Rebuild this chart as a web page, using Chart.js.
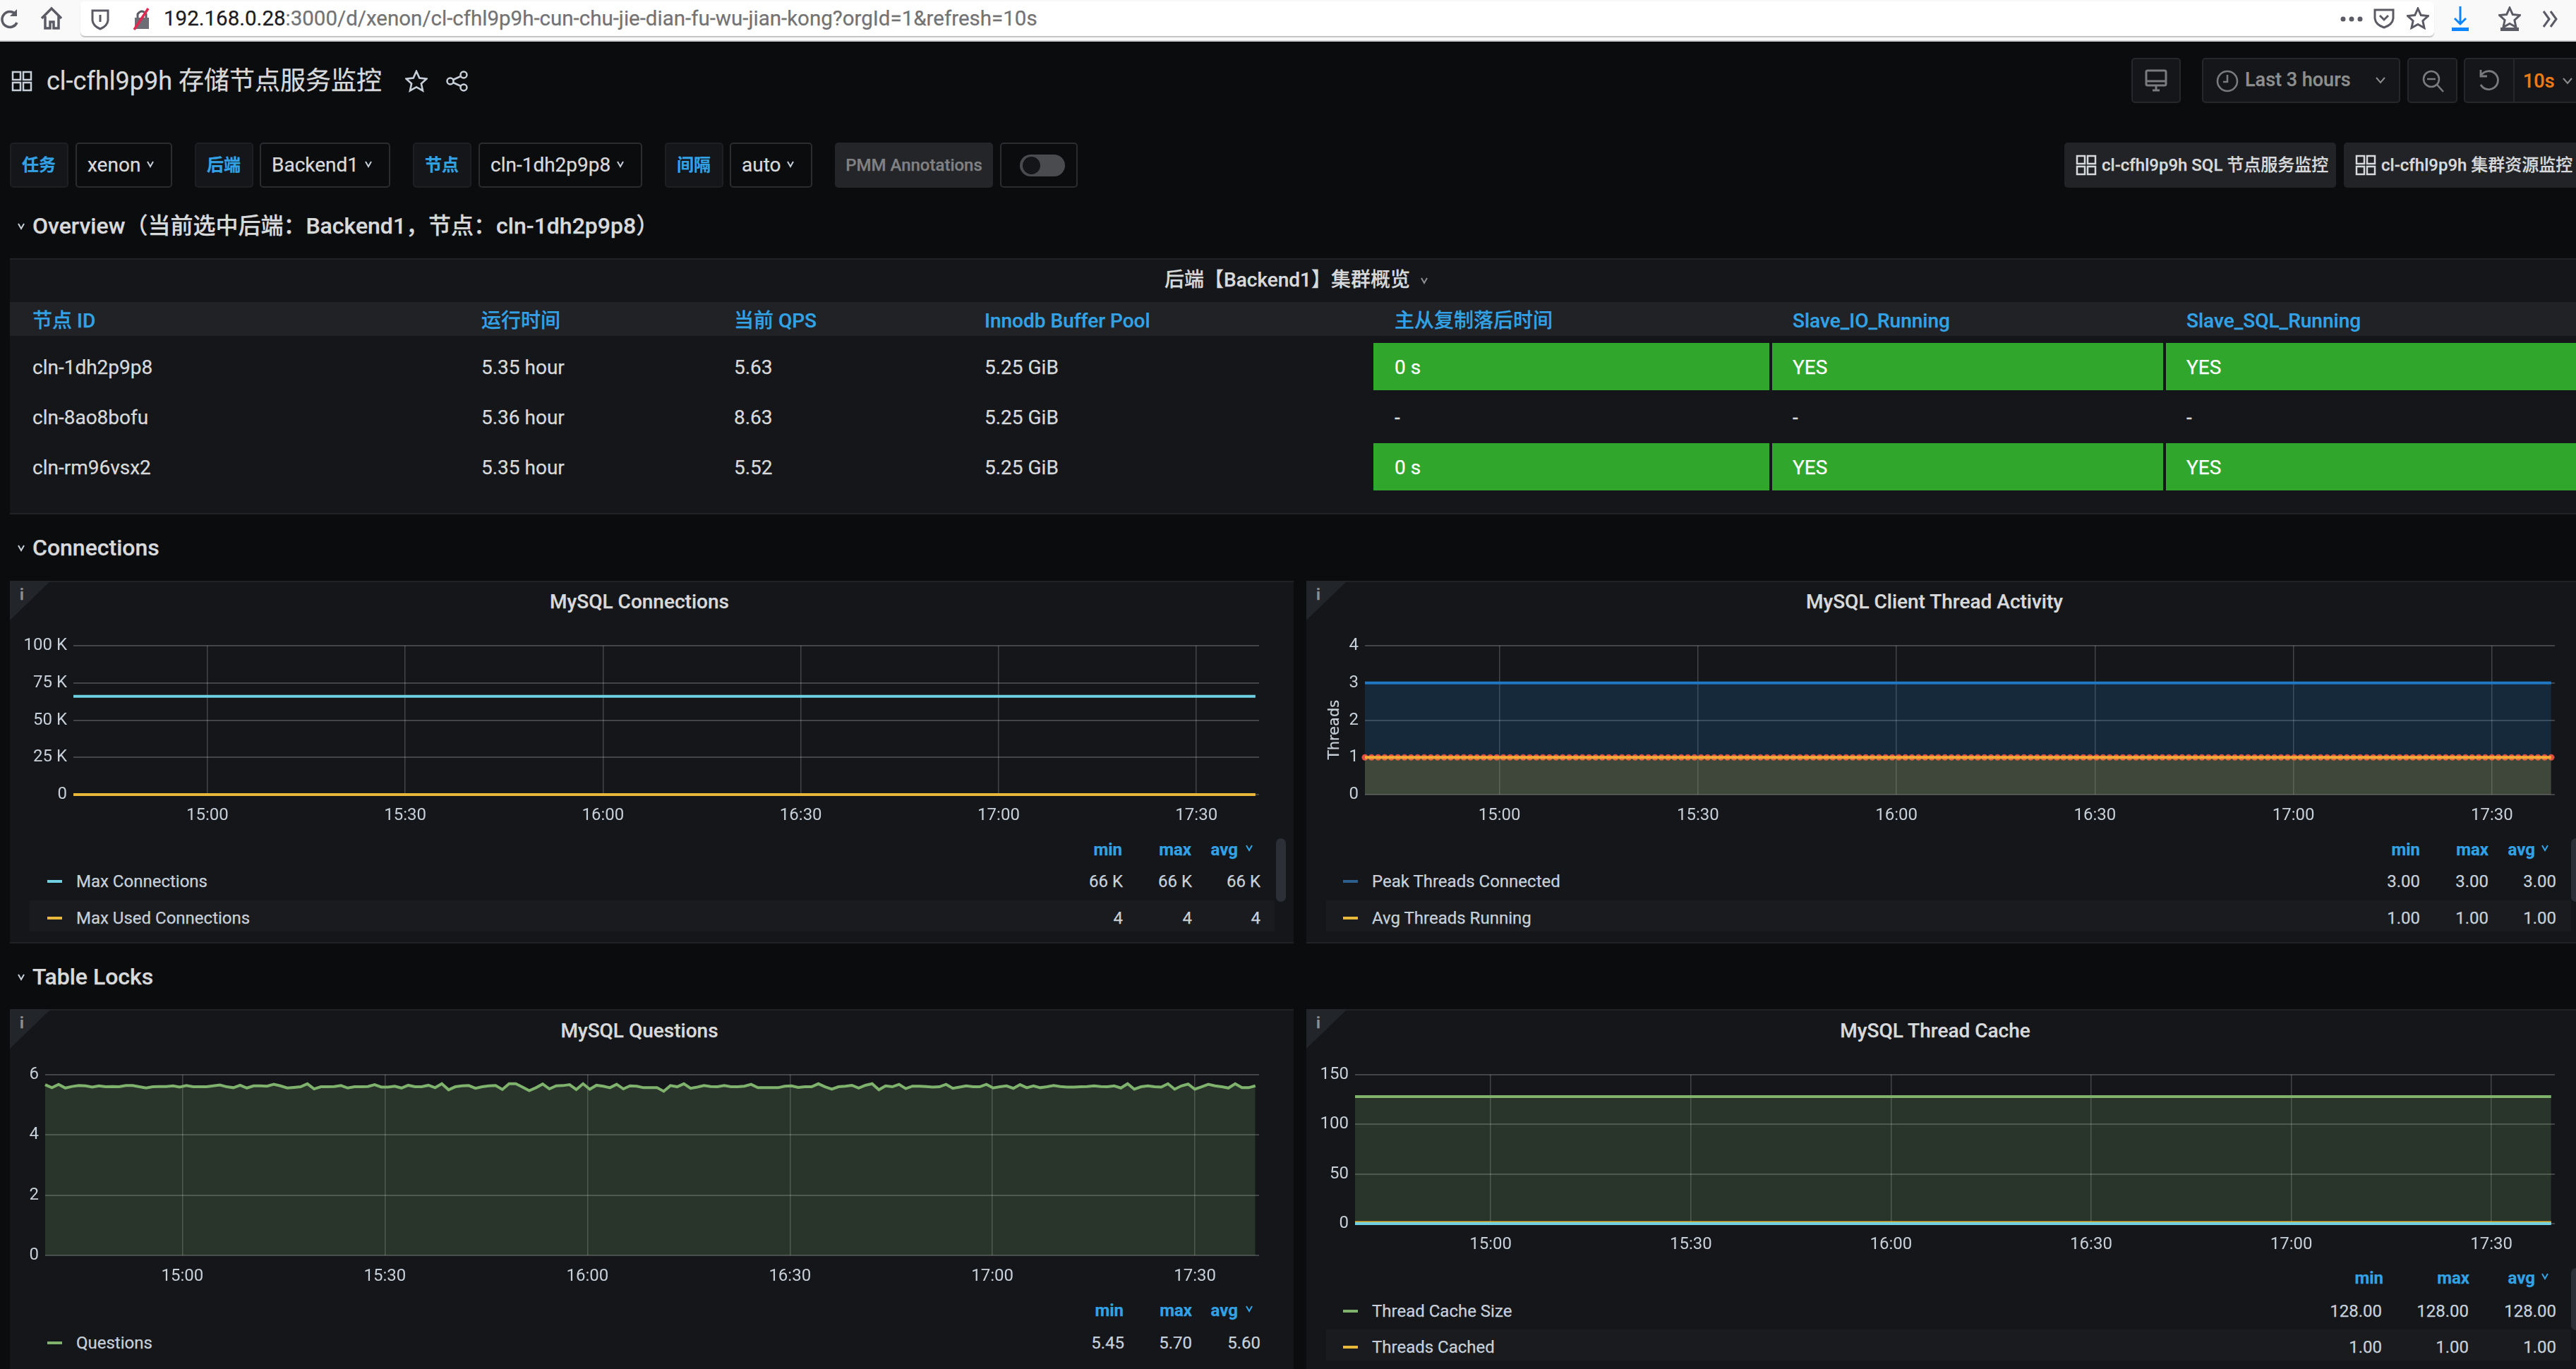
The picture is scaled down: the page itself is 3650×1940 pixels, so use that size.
<!DOCTYPE html>
<html>
<head>
<meta charset="utf-8">
<title>cl-cfhl9p9h 存储节点服务监控</title>
<script src="https://cdn.jsdelivr.net/npm/chart.js@4"></script>
<style>
  html, body { margin: 0; padding: 0; background: #0b0c0e; }
  #page { position: relative; width: 3650px; height: 1940px; overflow: hidden; background: #0b0c0e;
    font-family: Roboto, "Noto Sans CJK SC", sans-serif; color: #d8d9da; }
  #page div, #page svg, #page canvas { position: absolute; }
  .t { white-space: nowrap; line-height: 1; -webkit-text-stroke: 0.25px currentColor; }
</style>
</head>
<body>
<div id="page"></div>
<script>
'use strict';
const page = document.getElementById('page');
const BLUE = '#33a2e5', PANEL = '#141619', GREEN = '#31a62d', TEXT = '#c7d0d9';

// ---- small dom helpers ----
function box(x, y, w, h, css) {
  const d = document.createElement('div');
  d.style.cssText = `left:${x}px;top:${y}px;width:${w}px;height:${h}px;${css || ''}`;
  page.appendChild(d);
  return d;
}
// x is the left edge, or centre / right edge with align 'c' / 'r'; y is the vertical centre
function txt(s, x, y, size, color, o) {
  o = o || {};
  const d = document.createElement('div');
  const tx = o.align === 'c' ? '-50%' : o.align === 'r' ? '-100%' : '0';
  d.className = 't';
  d.style.cssText = `left:${x}px;top:${y}px;font-size:${size}px;color:${color};font-weight:${o.weight || 400};transform:translate(${tx},-50%)${o.rotate ? ' rotate(' + o.rotate + 'deg)' : ''};`;
  d.textContent = s;
  page.appendChild(d);
  return d;
}
function icon(x, y, w, h, inner) {
  const d = document.createElementNS('http://www.w3.org/2000/svg', 'svg');
  d.setAttribute('viewBox', `0 0 ${w} ${h}`);
  d.setAttribute('width', w); d.setAttribute('height', h);
  d.style.left = x + 'px'; d.style.top = y + 'px';
  d.innerHTML = inner;
  page.appendChild(d);
}
function chev(x, y, color, small) {
  const w = small ? 5 : 7;
  icon(x - w, y - 5, w * 2, 10, `<polyline points="1,1 ${w},8 ${w * 2 - 1},1" fill="none" stroke="${color}" stroke-width="2"/>`);
}
function grid(x, y, color) {
  const r = (a, b) => `<rect x="${a}" y="${b}" width="11" height="11" fill="none" stroke="${color}" stroke-width="2.5"/>`;
  icon(x, y, 30, 30, r(2, 2) + r(17, 2) + r(2, 17) + r(17, 17));
}

// ---- browser bar ----
box(0, 0, 3650, 59, 'background:#f9f9fa;border-bottom:2px solid #d0d0d2;box-sizing:border-box;');
box(114, 2, 3335, 49, 'background:#fff;border-radius:6px;box-shadow:0 2px 1px #c4c4c6;');
const G = '#5b5b66';
icon(0, 10, 28, 34, `<path d="M22 10 A11 11 0 1 0 24 22" fill="none" stroke="${G}" stroke-width="3.5"/><path d="M24 3v10h-10z" fill="${G}"/>`);
icon(56, 8, 34, 36, `<path d="M3 18 L17 4 L31 18 M8 15V32H15V23H20V32H27V15" fill="none" stroke="${G}" stroke-width="3.5"/>`);
icon(128, 11, 28, 32, `<path d="M3 4H25V18Q24 26 14 30Q4 26 3 18Z" fill="none" stroke="${G}" stroke-width="3"/><path d="M14 10v10" stroke="${G}" stroke-width="3"/>`);
icon(186, 11, 30, 32, `<rect x="5" y="14" width="20" height="16" fill="#6d6d75"/><path d="M9 14V9Q15 1 21 9V14" fill="none" stroke="${G}" stroke-width="3"/><path d="M4 31L24 1" stroke="#e22850" stroke-width="3.5"/>`);
const url = txt('192.168.0.28', 232, 27, 29.5, '#1c1c22');
url.innerHTML = '192.168.0.28<span style="color:#737373">:3000/d/xenon/cl-cfhl9p9h-cun-chu-jie-dian-fu-wu-jian-kong?orgId=1&amp;refresh=10s</span>';
icon(3315, 20, 34, 14, `<circle cx="5" cy="7" r="3.5" fill="${G}"/><circle cx="17" cy="7" r="3.5" fill="${G}"/><circle cx="29" cy="7" r="3.5" fill="${G}"/>`);
icon(3362, 11, 32, 30, `<path d="M3 3H29V15Q28 24 16 28Q4 24 3 15Z" fill="none" stroke="${G}" stroke-width="3"/><path d="M10 11l6 6l6-6" fill="none" stroke="${G}" stroke-width="3"/>`);
const star = (c, w) => `<path d="M16 2l4.300 9.500 10.200 1.100-7.600 6.900 2.100 10-9-5.100-9 5.100 2.100-10-7.600-6.900 10.200-1.100z" fill="none" stroke="${c}" stroke-width="${w}"/>`;
icon(3410, 10, 32, 32, star(G, 3));
icon(3472, 8, 28, 36, '<path d="M14 1V26M6 18l8 8l8-8" fill="none" stroke="#0a84ff" stroke-width="3"/><rect x="2" y="31" width="24" height="5" fill="#0a84ff"/>');
icon(3540, 9, 32, 36, star(G, 3) + `<rect x="3" y="30" width="26" height="5" fill="${G}"/>`);
icon(3600, 13, 28, 28, `<path d="M4 3l8 11l-8 11M14 3l8 11l-8 11" fill="none" stroke="${G}" stroke-width="3"/>`);

// ---- dashboard header ----
grid(16, 100, '#c7d0d9');
txt('cl-cfhl9p9h 存储节点服务监控', 66, 115, 36, '#d8d9da');
icon(574, 99, 32, 32, star('#c7d0d9', 2.6));
icon(632, 100, 32, 30, '<g fill="none" stroke="#c7d0d9" stroke-width="2.5"><circle cx="6" cy="15" r="4.500"/><circle cx="25" cy="6" r="4.500"/><circle cx="25" cy="24" r="4.500"/><path d="M10 13l11-5M10 17l11 5"/></g>');

const BTN = 'background:#141619;border:2px solid #25272b;border-radius:5px;box-sizing:border-box;';
box(3020, 82, 70, 64, BTN);
icon(3039, 98, 32, 34, '<g fill="none" stroke="#7b7b7e" stroke-width="3"><rect x="2" y="2" width="28" height="21" rx="2"/><path d="M2 17H30M11 30H21M16 24V30"/></g>');
box(3120, 82, 281, 64, BTN);
icon(3139, 98, 34, 34, '<g fill="none" stroke="#7b7b7e" stroke-width="2.6"><circle cx="17" cy="17" r="14"/><path d="M17 8V18H11"/></g>');
txt('Last 3 hours', 3181, 113, 27, '#8e8e8e', { weight: 500 });
chev(3373, 114, '#8e8e8e');
box(3411, 82, 71, 64, BTN);
icon(3430, 98, 34, 34, '<g fill="none" stroke="#7b7b7e" stroke-width="2.6"><circle cx="15" cy="14" r="11"/><path d="M9 14H21M23 22L32 32"/></g>');
box(3491, 82, 170, 64, BTN);
box(3561, 82, 2, 64, 'background:#25272b;');
icon(3510, 97, 34, 36, '<g fill="none" stroke="#7b7b7e" stroke-width="2.800"><path d="M6 9A13 13 0 1 1 5 23"/><path d="M5 2V11H14"/></g>');
txt('10s', 3575, 115, 27, '#eb7b18', { weight: 500 });
chev(3638, 115, '#8e8e8e');

// ---- template variables ----
const VARS = [
  { label: '任务', value: 'xenon', lx: 14, vx: 107, vw: 137 },
  { label: '后端', value: 'Backend1', lx: 276, vx: 368, vw: 185 },
  { label: '节点', value: 'cln-1dh2p9p8', lx: 585, vx: 678, vw: 232 },
  { label: '间隔', value: 'auto', lx: 942, vx: 1034, vw: 117 }
];
VARS.forEach((v) => {
  box(v.lx, 202, 83, 64, 'background:#141619;border:2px solid #1d1f23;border-radius:5px;box-sizing:border-box;');
  txt(v.label, v.lx + 41, 234, 24, BLUE, { align: 'c', weight: 700 });
  box(v.vx, 202, v.vw, 64, 'background:#0b0c0e;border:2px solid #2a2c30;border-radius:5px;box-sizing:border-box;');
  txt(v.value, v.vx + 17, 234, 28, '#d8d9da');
  chev(v.vx + v.vw - 31, 233, '#c7d0d9', true);
});
box(1183, 202, 224, 64, 'background:#232528;border-radius:5px;');
txt('PMM Annotations', 1295, 234, 24, '#808184', { align: 'c', weight: 500 });
box(1417, 202, 110, 64, 'background:#0b0c0e;border:2px solid #2a2c30;border-radius:5px;box-sizing:border-box;');
box(1445, 219, 64, 31, 'background:#4a4b4f;border-radius:16px;');
box(1449, 222, 25, 25, 'background:#141518;border-radius:50%;');

// dashboard links
const LINKS = [
  { text: 'cl-cfhl9p9h SQL 节点服务监控', x: 2925, w: 385 },
  { text: 'cl-cfhl9p9h 集群资源监控', x: 3321, w: 340 }
];
LINKS.forEach((l) => {
  box(l.x, 202, l.w, 64, 'background:#212327;border-radius:5px;');
  grid(l.x + 16, 219, '#d8d9da');
  txt(l.text, l.x + 53, 234, 24, '#d8d9da', { weight: 500 });
});

// ---- section rows ----
[['Overview（当前选中后端：Backend1，节点：cln-1dh2p9p8）', 320], ['Connections', 776], ['Table Locks', 1384]].forEach(([s, y]) => {
  chev(30, y + 1, '#c7d0d9', true);
  txt(s, 46, y, 32, '#d8d9da', { weight: 500 });
});

// ---- overview table ----
const TABLE_COLS = [
  { title: '节点 ID', x: 46 }, { title: '运行时间', x: 682 }, { title: '当前 QPS', x: 1040 },
  { title: 'Innodb Buffer Pool', x: 1395 }, { title: '主从复制落后时间', x: 1976, cell: [1946, 2507] },
  { title: 'Slave_IO_Running', x: 2540, cell: [2511, 3065] }, { title: 'Slave_SQL_Running', x: 3098, cell: [3069, 3650] }
];
const TABLE_ROWS = [
  ['cln-1dh2p9p8', '5.35 hour', '5.63', '5.25 GiB', '0 s', 'YES', 'YES'],
  ['cln-8ao8bofu', '5.36 hour', '8.63', '5.25 GiB', '-', '-', '-'],
  ['cln-rm96vsx2', '5.35 hour', '5.52', '5.25 GiB', '0 s', 'YES', 'YES']
];
const ROW_Y = [519, 590, 661];
box(14, 366, 3636, 363, `background:${PANEL};border-top:2px solid #202226;border-bottom:2px solid #202226;box-sizing:border-box;`);
txt('后端【Backend1】集群概览', 1824, 397, 28, '#d8d9da', { align: 'c', weight: 500 });
chev(2018, 398, '#8e8e8e', true);
box(14, 428, 3636, 48, 'background:#202226;');
TABLE_COLS.forEach((c) => txt(c.title, c.x, 455, 28, BLUE, { weight: 500 }));
TABLE_ROWS.forEach((row, r) => {
  row.forEach((val, i) => {
    const c = TABLE_COLS[i];
    const live = c.cell && val !== '-';
    if (live) box(c.cell[0], ROW_Y[r] - 33, c.cell[1] - c.cell[0], 67, `background:${GREEN};`);
    txt(val, c.x, ROW_Y[r] + 2, 28, live ? '#fff' : '#d8d9da');
  });
});

// ---- graph panels ----
const pad = (n) => String(n).padStart(2, '0');
const clock = (m) => pad(Math.floor(m / 60)) + ':' + pad(Math.round(m % 60));
const kilo = (v) => (v ? v / 1000 + ' K' : '0');

// MySQL Questions, one sample a minute over the 3 hours
const QUESTIONS = [
  5.67, 5.57, 5.68, 5.56, 5.61, 5.64, 5.63, 5.59, 5.63, 5.60,
  5.61, 5.60, 5.64, 5.64, 5.60, 5.56, 5.60, 5.61, 5.61, 5.63,
  5.59, 5.64, 5.60, 5.60, 5.60, 5.63, 5.66, 5.60, 5.57, 5.65,
  5.56, 5.63, 5.63, 5.62, 5.68, 5.63, 5.56, 5.58, 5.60, 5.70,
  5.53, 5.60, 5.60, 5.61, 5.64, 5.56, 5.60, 5.60, 5.61, 5.67,
  5.59, 5.59, 5.62, 5.56, 5.65, 5.60, 5.60, 5.65, 5.57, 5.70,
  5.50, 5.60, 5.63, 5.64, 5.55, 5.60, 5.63, 5.64, 5.51, 5.70,
  5.70, 5.59, 5.47, 5.57, 5.69, 5.53, 5.63, 5.64, 5.67, 5.51,
  5.70, 5.52, 5.65, 5.62, 5.57, 5.68, 5.53, 5.63,
  5.62, 5.57, 5.57, 5.57, 5.45, 5.64, 5.60, 5.70, 5.55, 5.59,
  5.64, 5.61, 5.60, 5.64, 5.60, 5.60, 5.62, 5.68, 5.57, 5.57,
  5.57, 5.57, 5.62, 5.63, 5.58, 5.60, 5.60, 5.70, 5.60, 5.52,
  5.60, 5.62, 5.65, 5.56, 5.65, 5.70, 5.50, 5.63, 5.60, 5.68,
  5.54, 5.62, 5.62, 5.61, 5.59, 5.60, 5.68, 5.55, 5.59, 5.63,
  5.60, 5.60, 5.68, 5.56, 5.60, 5.63, 5.55, 5.67, 5.57, 5.63,
  5.57, 5.60, 5.64, 5.61, 5.59, 5.59, 5.60, 5.61, 5.63, 5.61,
  5.60, 5.63, 5.56, 5.70, 5.52, 5.60, 5.63, 5.60, 5.59, 5.70,
  5.52, 5.63, 5.69, 5.52, 5.60, 5.68, 5.63, 5.60, 5.56, 5.70,
  5.57, 5.57, 5.63
];
const X_MIN = 879.67, X_MAX = 1059.5, X_LAST = 1058.95; // minutes since midnight
const times = QUESTIONS.map((_, i) => X_MIN + i * (X_LAST - X_MIN) / (QUESTIONS.length - 1));
const flat = (v) => times.map(() => v);

const PANELS = [
  {
    title: 'MySQL Connections', titleX: 906, titleY: 853, box: [14, 823, 1819, 514],
    plot: { l: 104, r: 1784, t: 915, b: 1126 }, yMax: 100000, yStep: 25000, yFmt: kilo,
    series: [
      { name: 'Max Connections', color: '#6ed0e0', values: flat(66000), stats: ['66 K', '66 K', '66 K'] },
      { name: 'Max Used Connections', color: '#eab839', values: flat(4), stats: ['4', '4', '4'] }
    ],
    legend: { headY: 1204, rowY: [1249, 1301], stripe: [42, 1276, 1764, 44], mark: 67, label: 108, head: [1590, 1688, 1754], chev: 1770, val: [1591, 1689, 1786], bar: [1808, 1188, 90] }
  },
  {
    title: 'MySQL Client Thread Activity', titleX: 2741, titleY: 853, box: [1851, 823, 1799, 514],
    plot: { l: 1934, r: 3620, t: 915, b: 1126 }, yMax: 4, yStep: 1, yFmt: String, yTitle: 'Threads',
    series: [
      { name: 'Peak Threads Connected', color: '#1f78c1', values: flat(3), fill: true, stats: ['3.00', '3.00', '3.00'], mark: '#2c5f8e' },
      { name: 'Avg Threads Running', color: '#f2ad38', values: flat(1), fill: true, fillColor: 'rgba(234,184,57,.2)', stats: ['1.00', '1.00', '1.00'], mark: '#eab839', dots: '#e24d42' }
    ],
    legend: { headY: 1204, rowY: [1249, 1301], stripe: [1879, 1276, 1764, 44], mark: 1903, label: 1944, head: [3429, 3526, 3592], chev: 3606, val: [3429, 3526, 3622], bar: [3643, 1188, 90] }
  },
  {
    title: 'MySQL Questions', titleX: 906, titleY: 1461, box: [14, 1430, 1819, 530],
    plot: { l: 64, r: 1784, t: 1523, b: 1779 }, yMax: 6, yStep: 2, yFmt: String,
    series: [
      { name: 'Questions', color: '#7eb26d', values: QUESTIONS, fill: true, stats: ['5.45', '5.70', '5.60'] }
    ],
    legend: { headY: 1857, rowY: [1903], mark: 67, label: 108, head: [1592, 1689, 1754], chev: 1770, val: [1593, 1689, 1786] }
  },
  {
    title: 'MySQL Thread Cache', titleX: 2742, titleY: 1461, box: [1851, 1430, 1799, 530],
    plot: { l: 1920, r: 3620, t: 1523, b: 1734 }, yMax: 150, yStep: 50, yFmt: String,
    series: [
      { name: 'Thread Cache Size', color: '#7eb26d', values: flat(128), fill: true, stats: ['128.00', '128.00', '128.00'] },
      { name: 'Threads Cached', color: '#eab839', values: flat(1), fill: true, fillColor: 'rgba(234,184,57,.2)', stats: ['1.00', '1.00', '1.00'] },
      // third series is scrolled out of the legend, only its line shows
      { name: 'Threads Created', color: '#6ed0e0', values: flat(0), hideLegend: true }
    ],
    legend: { headY: 1811, rowY: [1858, 1909], stripe: [1879, 1884, 1764, 44], mark: 1903, label: 1944, head: [3377, 3499, 3592], chev: 3606, val: [3375, 3498, 3622], bar: [3643, 1797, 88] }
  }
];

const rgba = (hex, a) => {
  const n = parseInt(hex.slice(1), 16);
  return `rgba(${n >> 16},${(n >> 8) & 255},${n & 255},${a})`;
};

function drawPanel(p) {
  const [bx, by, bw, bh] = p.box;
  box(bx, by, bw, bh, `background:${PANEL};border-top:2px solid #202226;border-bottom:2px solid #202226;box-sizing:border-box;`);
  box(bx, by, 58, 56, 'background:#22252a;clip-path:polygon(0 0,100% 0,0 100%);');
  txt('i', bx + 17, by + 20, 22, '#8e8e8e', { align: 'c', weight: 700 });
  txt(p.title, p.titleX, p.titleY, 28, '#d8d9da', { align: 'c', weight: 500 });

  // canvas sits around the plot area, axes get fixed sizes so the plot lands where it should
  const PT = 40, PR = 20, XH = 60, YW = p.plot.l - bx;
  const c = document.createElement('canvas');
  c.width = p.plot.r + PR - bx; c.height = PT + p.plot.b - p.plot.t + XH;
  c.style.left = bx + 'px'; c.style.top = (p.plot.t - PT) + 'px';
  page.appendChild(c);

  // chart.js paints low order last, so negative index keeps later series on top like the original
  const datasets = [];
  p.series.forEach((s) => {
    const data = s.values.map((y, i) => ({ x: times[i], y }));
    if (s.dots) {
      datasets.push({ label: s.name + ' points', data, showLine: false, pointRadius: 4.5,
        pointBackgroundColor: s.dots, pointBorderWidth: 0, clip: false, order: -datasets.length });
    }
    datasets.push({
      label: s.name, data, borderColor: s.color, borderWidth: 4, pointRadius: 0, tension: 0, clip: false,
      fill: s.fill ? 'origin' : false, backgroundColor: s.fillColor || rgba(s.color, 0.2), order: -datasets.length
    });
  });

  new Chart(c, {
    type: 'line',
    data: { datasets },
    options: {
      responsive: false, animation: false, devicePixelRatio: 1,
      layout: { padding: { top: PT, right: PR, left: 0, bottom: 0 } },
      plugins: { legend: { display: false }, tooltip: { enabled: false } },
      scales: {
        x: {
          type: 'linear', min: X_MIN, max: X_MAX,
          afterBuildTicks: (ax) => { ax.ticks = [900, 930, 960, 990, 1020, 1050].map((value) => ({ value })); },
          afterFit: (ax) => { ax.height = XH; },
          ticks: { color: TEXT, font: { family: 'Roboto', size: 24 }, padding: 16, autoSkip: false, maxRotation: 0, callback: clock },
          grid: { color: 'rgba(255,255,255,.2)', lineWidth: 1.5, drawTicks: false },
          border: { display: false }
        },
        y: {
          min: 0, max: p.yMax,
          afterFit: (ax) => { ax.width = YW; },
          ticks: { color: TEXT, font: { family: 'Roboto', size: 24 }, padding: 9, stepSize: p.yStep, callback: p.yFmt },
          grid: { color: 'rgba(255,255,255,.2)', lineWidth: 2, drawTicks: false },
          border: { display: false }
        }
      }
    }
  });
  // axis label sits off-centre of the plot in the original, so it is placed by hand
  if (p.yTitle) {
    const t = txt(p.yTitle, 1890, 1034, 21, TEXT, { align: 'c', rotate: -90 });
    t.style.fontFamily = '"DejaVu Sans"';
  }

  // legend table
  const L = p.legend;
  ['min', 'max', 'avg'].forEach((h, i) => txt(h, L.head[i], L.headY, 24, BLUE, { align: 'r', weight: 700 }));
  chev(L.chev, L.headY - 2, BLUE, true);
  if (L.stripe) box(L.stripe[0], L.stripe[1], L.stripe[2], L.stripe[3], 'background:#191b1f;');
  if (L.bar) box(L.bar[0], L.bar[1], 14, L.bar[2], 'background:#2c2f35;border-radius:7px;');
  p.series.filter((s) => !s.hideLegend).forEach((s, r) => {
    const y = L.rowY[r];
    box(L.mark, y - 2, 21, 4, `background:${s.mark || s.color};`);
    txt(s.name, L.label, y, 24, TEXT);
    s.stats.forEach((v, i) => txt(v, L.val[i], y, 24, TEXT, { align: 'r' }));
  });
}

PANELS.forEach(drawPanel);
</script>
</body>
</html>
